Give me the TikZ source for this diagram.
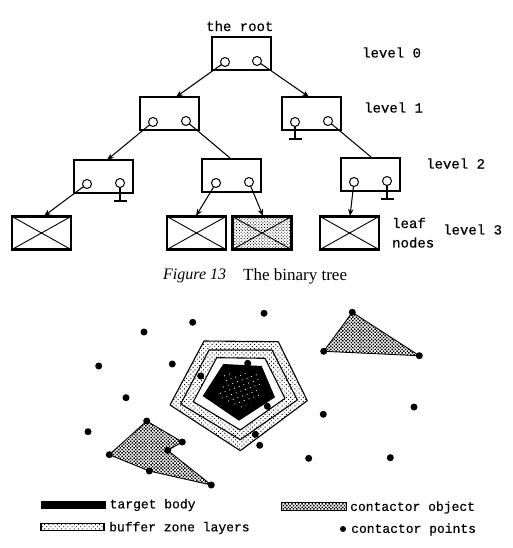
\documentclass[tikz,border=0pt]{standalone}
\usepackage{fontspec}
\setmainfont{Liberation Serif}
\newfontfamily\typed[RawFeature={embolden=0.5}]{Liberation Mono}
\usetikzlibrary{arrows.meta,patterns.meta}
\tikzset{
  nodebox/.style={draw,line width=2pt,minimum width=59pt,minimum height=33pt,inner sep=0,outer sep=0},
  leafbox/.style={draw,line width=2.2pt,minimum width=59pt,minimum height=33pt,inner sep=0,outer sep=0},
  slot/.style={circle,draw,line width=1pt,fill=white,minimum size=9pt,inner sep=0,outer sep=0},
  link/.style={line width=1.05pt},
  linkarrow/.style={link,-{Stealth[length=7pt,width=5.5pt]}},
  groundbar/.style={line width=1.6pt},
  cross/.style={line width=0.9pt},
  lab/.style={font=\typed\fontsize{14}{15}\selectfont,inner sep=0,anchor=west,text=black},
  leg/.style={font=\typed\fontsize{13}{14}\selectfont,inner sep=0,anchor=west,text=black},
  pt/.style={circle,fill=black,minimum size=7pt,inner sep=0,outer sep=0},
  zoneline/.style={draw,line width=1.1pt,line join=round},
  bufferfill/.style={pattern={Dots[distance=3pt,radius=0.65pt,angle=45]},pattern color=black},
  objectfill/.style={pattern={Dots[distance=2.4pt,radius=1.05pt,angle=45]},pattern color=black},
  leaffill/.style={pattern={Dots[distance=2.2pt,radius=0.6pt,angle=45]},pattern color=black},
  speckle/.style={pattern={Dots[distance=5pt,radius=0.6pt,angle=20]},pattern color=white}
}
\begin{document}
\begin{tikzpicture}[x=1pt,y=-1pt]
\useasboundingbox (0,0) rectangle (512,548);
% boxes
\node[nodebox] (b0) at (241,54) {};
\node[nodebox] (b1) at (169,113.5) {};
\node[nodebox] (b2) at (311,114) {};
\node[nodebox] (b3) at (103,176.5) {};
\node[nodebox] (b4) at (231.5,175.5) {};
\node[nodebox] (b5) at (370,174.5) {};
\node[leafbox] (l1) at (41.5,233) {};
\node[leafbox] (l2) at (196.5,233) {};
\node[leafbox,leaffill] (l3) at (262,233) {};
\node[leafbox] (l4) at (349.5,233) {};
\foreach \n in {l1,l2,l3,l4}{
  \draw[cross] (\n.north west) -- (\n.south east);
  \draw[cross] (\n.north east) -- (\n.south west);
}
% connector ends
\coordinate (t1) at (176,97);
\coordinate (t2) at (309,97);
\coordinate (t3) at (107,160);
\coordinate (t4) at (230,158);
\coordinate (t5) at (371,157);
\coordinate (t6) at (44,216);
\coordinate (t7) at (196,216);
\coordinate (t8) at (263,216);
\coordinate (t9) at (350,216);
\coordinate (g1) at (295,139);
\coordinate (g2) at (120,201);
\coordinate (g3) at (387,199);
% connectors
\draw[linkarrow] (225,62) coordinate (s1) -- (t1);
\draw[linkarrow] (257,61) coordinate (s2) -- (t2);
\draw[linkarrow] (153,122) coordinate (s3) -- (t3);
\draw[link] (186,121) coordinate (s4) -- (t4);
\draw[link] (295,122) coordinate (s5) -- (g1);
\draw[link] (328,121) coordinate (s6) -- (t5);
\draw[linkarrow] (87,184) coordinate (s7) -- (t6);
\draw[link] (120,183) coordinate (s8) -- (g2);
\draw[linkarrow] (216,183) coordinate (s9) -- (t7);
\draw[linkarrow] (249,182) coordinate (s10) -- (t8);
\draw[linkarrow] (354,182) coordinate (s11) -- (t9);
\draw[link] (387,181) coordinate (s12) -- (g3);
\foreach \g in {g1,g2,g3}{
  \draw[groundbar] ([xshift=-6.5pt]\g) -- ([xshift=6.5pt]\g);
}
\foreach \s in {s1,s2,s3,s4,s5,s6,s7,s8,s9,s10,s11,s12}{
  \node[slot] at (\s) {};
}
% tree labels
\node[lab] (root) at (206,26) {the root};
\node[lab] (lv0) at (362,52.5) {level 0};
\node[lab] (lv1) at (364,107.5) {level 1};
\node[lab] (lv2) at (426,163.5) {level 2};
\node[lab] (lv3) at (443,229.5) {level 3};
\node[lab] (leafa) at (392,223) {leaf};
\node[lab] (leafb) at (392,242.5) {nodes};
\node[font=\fontsize{16}{17}\selectfont,inner sep=0,anchor=west,text=black] (cap) at (163,276) {\textit{Figure 13}};
\node[font=\fontsize{17}{18}\selectfont,inner sep=0,anchor=west,text=black] (cap2) at (243,276) {The binary tree};
% target with buffer zone layers
\draw[zoneline,fill=white] (204,341) -- (278.3,341.7) -- (307.3,400.7) -- (240.3,450.7) -- (170,405) -- cycle;
\fill[bufferfill] (204,341) -- (278.3,341.7) -- (307.3,400.7) -- (240.3,450.7) -- (170,405) -- cycle;
\draw[zoneline,fill=white] (209,350) -- (272,350) -- (297.3,400) -- (240.3,439.7) -- (180.7,404) -- cycle;
\fill[bufferfill] (209,350) -- (272,350) -- (297.3,400) -- (240.3,439.7) -- (180.7,404) -- cycle;
\draw[zoneline,fill=white] (216.7,357.7) -- (265,358.3) -- (285,398.3) -- (240.3,430) -- (193.3,401.7) -- cycle;
\fill[black] (223.3,364) -- (261.7,366) -- (275,397.3) -- (239,420.7) -- (202.7,396) -- cycle;
\fill[speckle] (225,373) -- (258,373) -- (262,398) -- (240,408) -- (218,398) -- cycle;
% contactor points
\foreach \n/\x/\y in {a/264/313.3,b/192.7/322.3,c/144/332,d/98.7/366,e/172.3/364,f/126/397.7,g/88/431.7,h/200.7/376,i/247.7/363.3,j/267.3/406.3,k/255.3/434.3,m/259.7/445.3,n/323.3/414.3,o/308.7/458.3,p/390.3/457.7,q/414/407}{
  \node[pt] (\n) at (\x,\y) {};
}
\node[pt] (ta) at (352.3,312.3) {};
\node[pt] (tb) at (323.7,351.3) {};
\node[pt] (tc) at (419.3,355.7) {};
\node[pt] (pa) at (146.7,421) {};
\node[pt] (pb) at (182.3,442) {};
\node[pt] (pc) at (167.7,450.3) {};
\node[pt] (pd) at (211.3,485) {};
\node[pt] (pe) at (149.3,471) {};
\node[pt] (pf) at (109.3,454.7) {};
\fill[objectfill] (ta.center) -- (tc.center) -- (tb.center) -- cycle;
\fill[objectfill] (pa.center) -- (pb.center) -- (pc.center) -- (pd.center) -- (pe.center) -- (pf.center) -- cycle;
\draw[line width=0.9pt] (ta.center) -- (tc.center) -- (tb.center) -- cycle;
\draw[line width=0.9pt] (pa.center) -- (pb.center) -- (pc.center) -- (pd.center) -- (pe.center) -- (pf.center) -- cycle;
% legend
\node[draw=none,fill=black,minimum width=65pt,minimum height=8pt,inner sep=0] (kt) at (73.5,505) {};
\node[draw,line width=1.2pt,bufferfill,minimum width=63pt,minimum height=7pt,inner sep=0] (kb) at (72.5,527) {};
\node[draw,line width=1pt,objectfill,minimum width=65pt,minimum height=8pt,inner sep=0] (ko) at (313.5,506.5) {};
\node[pt,minimum size=6pt] (kp) at (343,529) {};
\node[leg] at (109.5,505) {target body};
\node[leg] at (109,528) {buffer zone layers};
\node[leg] at (350,507.5) {contactor object};
\node[leg] at (351,529.5) {contactor points};
\end{tikzpicture}
\end{document}
